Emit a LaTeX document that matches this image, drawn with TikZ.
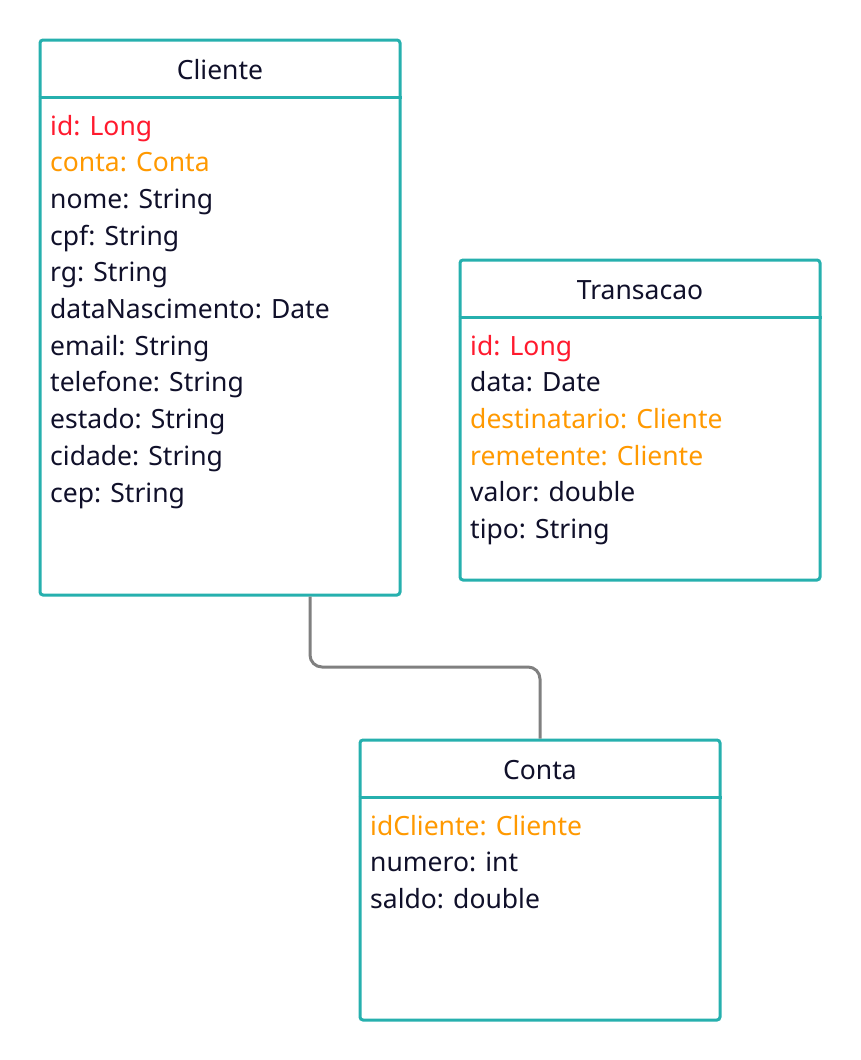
\documentclass[tikz,border=0pt]{standalone}
\usepackage{fontspec}
\setmainfont{Noto Sans}
\definecolor{teal1}{HTML}{26B0AE}
\definecolor{txt}{HTML}{10102A}
\definecolor{redA}{HTML}{FF1A2E}
\definecolor{orgA}{HTML}{FF9900}
\definecolor{conn}{HTML}{808080}
\begin{document}
\begin{tikzpicture}[x=1pt,y=-1pt,
  cls/.style={draw=teal1,line width=3pt,rounded corners=3pt,fill=white,inner sep=0pt,minimum width=360pt},
  hdr/.style={draw=teal1,line width=3pt},
  ttl/.style={anchor=base,inner sep=0pt,text=txt,font=\fontsize{26.5}{30}\selectfont},
  att/.style={anchor=base west,inner sep=0pt,text=txt,font=\fontsize{26.5}{30}\selectfont},
  idc/.style={att,text=redA},
  fk/.style={att,text=orgA},
  link/.style={draw=conn,line width=3pt,rounded corners=12pt}]
\useasboundingbox (0,0) rectangle (860,1060);
\fill[white] (0,0) rectangle (860,1060);

% Cliente
\node[cls,minimum height=555pt] (cliente) at (220,317.5) {};
\draw[hdr] (cliente.west |- 0,97) coordinate (ch1) -- (cliente.east |- 0,97) coordinate (ch2);
\node[ttl] (clt) at (220,79) {Cliente};
\node[idc] (c1) at (50,135) {id: Long};
\node[fk]  (c2) at (50,171.7) {conta: Conta};
\node[att] (c3) at (50,208.4) {nome: String};
\node[att] (c4) at (50,245.1) {cpf: String};
\node[att] (c5) at (50,281.8) {rg: String};
\node[att] (c6) at (50,318.5) {dataNascimento: Date};
\node[att] (c7) at (50,355.2) {email: String};
\node[att] (c8) at (50,391.9) {telefone: String};
\node[att] (c9) at (50,428.6) {estado: String};
\node[att] (c10) at (50,465.3) {cidade: String};
\node[att] (c11) at (50,502) {cep: String};

% Transacao
\node[cls,minimum height=320pt] (trans) at (640,420) {};
\draw[hdr] (trans.west |- 0,317) -- (trans.east |- 0,317);
\node[ttl] (trt) at (640,299) {Transacao};
\node[idc] (t1) at (470,355) {id: Long};
\node[att] (t2) at (470,391.7) {data: Date};
\node[fk]  (t3) at (470,428.4) {destinatario: Cliente};
\node[fk]  (t4) at (470,465.1) {remetente: Cliente};
\node[att] (t5) at (470,501.8) {valor: double};
\node[att] (t6) at (470,538.5) {tipo: String};

% Conta
\node[cls,minimum height=280pt] (conta) at (540,880) {};
\draw[hdr] (conta.west |- 0,797) -- (conta.east |- 0,797);
\node[ttl] (cot) at (540,779) {Conta};
\node[fk]  (k1) at (370,835) {idCliente: Cliente};
\node[att] (k2) at (370,871.7) {numero: int};
\node[att] (k3) at (370,908.4) {saldo: double};

% connector
\coordinate (cs) at ([xshift=90pt]cliente.south);
\draw[link] (cs) -- (cs |- 0,667) -- (conta.north |- 0,667) -- (conta.north);
\end{tikzpicture}
\end{document}
